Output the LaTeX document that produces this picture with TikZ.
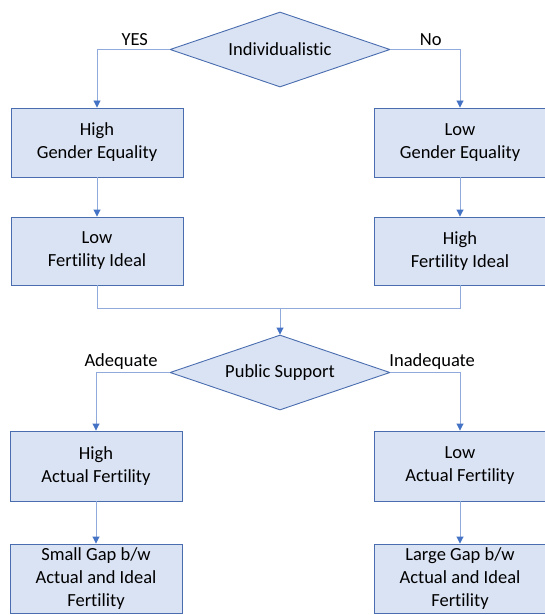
\documentclass[tikz,border=0pt]{standalone}
\usepackage{fontspec}
\setmainfont{Carlito}[Ligatures=NoCommon]
\usetikzlibrary{shapes.geometric,arrows.meta}
\definecolor{boxfill}{HTML}{DAE3F3}
\definecolor{boxline}{HTML}{4A6DB0}
\definecolor{conn}{HTML}{90AADB}
\definecolor{tipc}{HTML}{4472C4}
\tikzset{
  txt/.style={font=\fontsize{18.5}{23}\selectfont, text=black},
  stepbox/.style={txt, draw=boxline, fill=boxfill, line width=0.9pt, rectangle,
    minimum width=172pt, align=center, inner sep=0pt},
  decide/.style={txt, draw=boxline, fill=boxfill, line width=0.9pt, diamond,
    minimum width=220pt, minimum height=75pt, inner sep=0pt, shape aspect=2.93},
  conn/.style={draw=conn, line width=0.9pt},
  arr/.style={conn, -{Triangle[width=7pt,length=7pt,color=tipc]}},
  lbl/.style={txt, above, inner sep=3pt}
}
\begin{document}
\begin{tikzpicture}[x=1pt,y=-1pt]
\useasboundingbox (0,0) rectangle (544,615);
\node[decide] (d1) at (280,49.5) {Individualistic};
\node[stepbox, minimum height=69pt] (b1) at (97,142.5) {High\\Gender Equality};
\node[stepbox, minimum height=68pt] (b2) at (97,251) {Low\\Fertility Ideal};
\node[stepbox, minimum height=69pt] (b3) at (460,142.5) {Low\\Gender Equality};
\node[stepbox, minimum height=68pt] (b4) at (460,251) {High\\Fertility Ideal};
\coordinate (m) at (280,308);
\node[decide] (d2) at (280,372.5) {Public Support};
\node[stepbox, minimum height=70pt] (b5) at (96,466) {High\\Actual Fertility};
\node[stepbox, minimum height=69pt] (b6) at (96,578.5) {Small Gap b/w\\Actual and Ideal\\Fertility};
\node[stepbox, minimum height=70pt] (b7) at (460,466) {Low\\Actual Fertility};
\node[stepbox, minimum height=69pt] (b8) at (460,578.5) {Large Gap b/w\\Actual and Ideal\\Fertility};

\draw[arr] (d1.west) -| node[lbl, pos=0.24] (yes) {YES} (b1.north);
\draw[arr] (d1.east) -| node[lbl, pos=0.29] (no) {No} (b3.north);
\draw[arr] (b1) -- (b2);
\draw[arr] (b3) -- (b4);
\draw[conn] (b2.south) |- (m);
\draw[conn] (b4.south) |- (m);
\draw[arr] (m) -- (d2.north);
\draw[arr] (d2.west) -| node[lbl, pos=0.33] (ad) {Adequate} (b5.north);
\draw[arr] (d2.east) -| node[lbl, pos=0.30] (inad) {Inadequate} (b7.north);
\draw[arr] (b5) -- (b6);
\draw[arr] (b7) -- (b8);
\end{tikzpicture}
\end{document}
